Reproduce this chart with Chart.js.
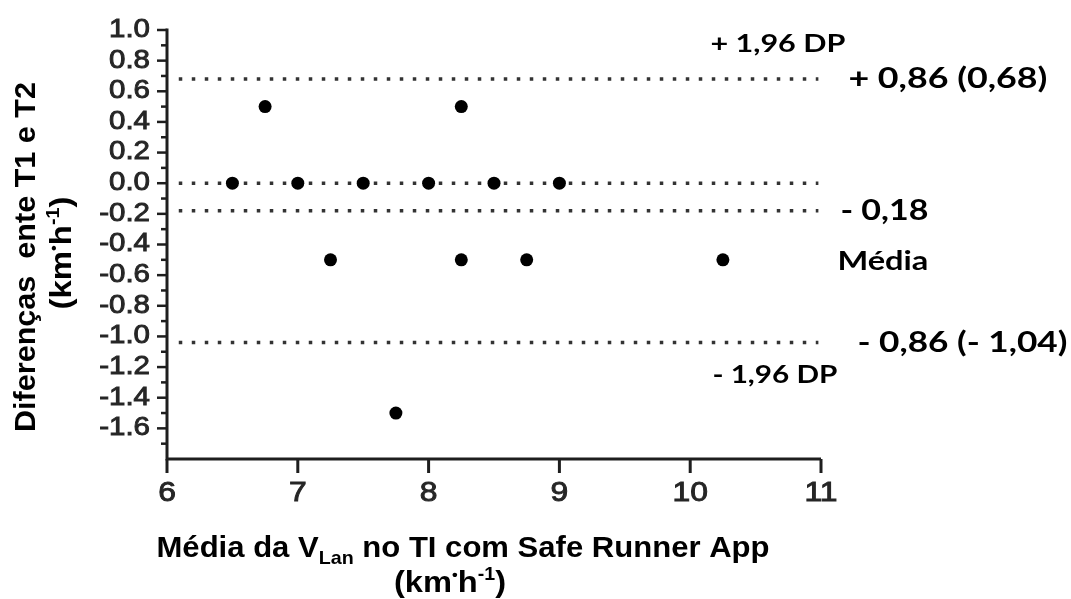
<!DOCTYPE html>
<html>
<head>
<meta charset="utf-8">
<script src="https://cdn.jsdelivr.net/npm/chart.js@4/dist/chart.umd.min.js"></script>
<style>
  html, body { margin: 0; padding: 0; background: #fff; }
  #wrap { width: 1071px; height: 599px; }
</style>
</head>
<body>
<div id="wrap"><canvas id="baChart" width="1071" height="599"></canvas></div>
<script>
// Bland-Altman: mean of the two trials vs difference T1 - T2
const meanSpeed = [6.5, 6.75, 7, 7.25, 7.5, 7.75, 8, 8.25, 8.25, 8.5, 8.75, 9, 10.25];
const diffSpeed = [0, 0.5, 0, -0.5, 0, -1.5, 0, 0.5, -0.5, 0, -0.5, 0, -0.5];
const zeroLevel = 0;
const upperLimit = 0.68;
const bias = -0.18;
const lowerLimit = -1.04;
const lineFrom = 6.09, lineTo = 10.98;
const xTickValues = [6, 7, 8, 9, 10, 11];
const yTickValues = [1.0, 0.8, 0.6, 0.4, 0.2, 0.0, -0.2, -0.4, -0.6, -0.8, -1.0, -1.2, -1.4, -1.6];

const SANS = '"Liberation Sans", Arial, sans-serif';
const NOTE = 'Lato, "Open Sans", sans-serif';

function refLine(level) {
  return {
    type: 'line',
    data: [{ x: lineFrom, y: level }, { x: lineTo, y: level }],
    borderColor: '#333',
    borderWidth: 3.5,
    borderDash: [3.5, 9.5],
    borderCapStyle: 'butt',
    pointRadius: 0,
    order: 2
  };
}

// draw a list of runs [{t, size, dy}] with optional horizontal fit
function drawRuns(ctx, runs, x, y, weight, family, width, align) {
  let total = 0;
  const ws = runs.map(r => {
    ctx.font = weight + ' ' + r.size + 'px ' + family;
    const w = ctx.measureText(r.t).width;
    total += w;
    return w;
  });
  const sx = width ? width / total : 1;
  ctx.save();
  ctx.translate(x, y);
  ctx.scale(sx, 1);
  let cx = align === 'center' ? -total / 2 : 0;
  runs.forEach((r, i) => {
    ctx.font = weight + ' ' + r.size + 'px ' + family;
    ctx.fillText(r.t, cx, r.dy || 0);
    cx += ws[i];
  });
  ctx.restore();
}

function tickText(ctx, txt, x, y, size, align) {
  ctx.save();
  ctx.font = size + 'px ' + SANS;
  ctx.translate(x, y);
  ctx.scale(1.18, 1);
  ctx.textAlign = align;
  ctx.lineWidth = 0.9;
  ctx.strokeStyle = '#262626';
  ctx.fillText(txt, 0, 0);
  ctx.strokeText(txt, 0, 0);
  ctx.restore();
}

const decorations = {
  id: 'decorations',
  afterDraw(chart) {
    const ctx = chart.ctx;
    const xs = chart.scales.x, ys = chart.scales.y;
    const a = chart.chartArea;
    ctx.save();
    ctx.strokeStyle = '#1e1e1e';
    ctx.lineWidth = 3;
    ctx.beginPath();
    ctx.moveTo(a.left, a.top - 1.5);
    ctx.lineTo(a.left, a.bottom + 1.5);
    ctx.moveTo(a.left - 1.5, a.bottom);
    ctx.lineTo(a.right, a.bottom);
    ctx.stroke();

    // y ticks, major every 0.2, minor every 0.1
    ctx.lineWidth = 2.5;
    for (let i = -17; i <= 10; i++) {
      const py = ys.getPixelForValue(i / 10);
      const len = i % 2 === 0 ? 10 : 6;
      ctx.beginPath();
      ctx.moveTo(a.left, py);
      ctx.lineTo(a.left - len, py);
      ctx.stroke();
    }
    // x ticks
    ctx.lineWidth = 3;
    xTickValues.forEach(v => {
      const px = xs.getPixelForValue(v);
      ctx.beginPath();
      ctx.moveTo(px, a.bottom);
      ctx.lineTo(px, a.bottom + 14);
      ctx.stroke();
    });

    // tick labels
    ctx.fillStyle = '#262626';
    ctx.textBaseline = 'middle';
    yTickValues.forEach(v => {
      tickText(ctx, v.toFixed(1), a.left - 17, ys.getPixelForValue(v), 25, 'right');
    });
    xTickValues.forEach(v => {
      tickText(ctx, String(v), xs.getPixelForValue(v), a.bottom + 35, 27, 'center');
    });

    // axis titles
    ctx.fillStyle = '#000';
    ctx.textBaseline = 'alphabetic';
    ctx.textAlign = 'left';
    drawRuns(ctx, [
      { t: 'Média da V', size: 30 },
      { t: 'Lan', size: 19, dy: 7 },
      { t: ' no TI com Safe Runner App', size: 30 }
    ], 463, 557, 'bold', SANS, 613, 'center');
    const unit = [
      { t: '(km', size: 30 },
      { t: '•', size: 15, dy: -12 },
      { t: 'h', size: 30 },
      { t: '-1', size: 18, dy: -12 },
      { t: ')', size: 30 }
    ];
    drawRuns(ctx, unit, 450, 592, 'bold', SANS, 112, 'center');

    ctx.save();
    ctx.translate(35, 257);
    ctx.rotate(-Math.PI / 2);
    drawRuns(ctx, [{ t: 'Diferenças  ente T1 e T2', size: 30 }], 0, 0, 'bold', SANS, 350, 'center');
    ctx.restore();
    ctx.save();
    ctx.translate(71, 253);
    ctx.rotate(-Math.PI / 2);
    drawRuns(ctx, unit, 0, 0, 'bold', SANS, 113, 'center');
    ctx.restore();

    // limit annotations
    const endX = xs.getPixelForValue(lineTo);
    drawRuns(ctx, [{ t: '+ 1,96 DP', size: 24 }], endX - 108, ys.getPixelForValue(upperLimit) - 27, 'bold', NOTE, 135);
    drawRuns(ctx, [{ t: '+ 0,86 (0,68)', size: 28 }], endX + 30, ys.getPixelForValue(upperLimit) + 9, 'bold', NOTE, 199);
    drawRuns(ctx, [{ t: '- 0,18', size: 28 }], endX + 22, ys.getPixelForValue(bias) + 9, 'bold', NOTE, 88);
    drawRuns(ctx, [{ t: 'Média', size: 26 }], endX + 19, ys.getPixelForValue(bias) + 59, 'bold', NOTE, 91);
    drawRuns(ctx, [{ t: '- 0,86 (- 1,04)', size: 28 }], endX + 39, ys.getPixelForValue(lowerLimit) + 9, 'bold', NOTE, 210);
    drawRuns(ctx, [{ t: '- 1,96 DP', size: 24 }], endX - 106, ys.getPixelForValue(lowerLimit) + 40, 'bold', NOTE, 125);
    ctx.restore();
  }
};

const ctx = document.getElementById('baChart').getContext('2d');
new Chart(ctx, {
  type: 'scatter',
  data: {
    datasets: [
      {
        label: 'diferenças',
        data: meanSpeed.map((x, i) => ({ x: x, y: diffSpeed[i] })),
        backgroundColor: '#000',
        borderColor: '#000',
        pointRadius: 6.5,
        borderWidth: 0,
        order: 1
      },
      refLine(upperLimit),
      refLine(zeroLevel),
      refLine(bias),
      refLine(lowerLimit)
    ]
  },
  options: {
    responsive: false,
    animation: false,
    layout: { padding: { left: 0, right: 250, top: 30, bottom: 0 } },
    plugins: { legend: { display: false }, tooltip: { enabled: false } },
    scales: {
      x: {
        type: 'linear', min: 6, max: 11,
        afterBuildTicks: s => { s.ticks = xTickValues.map(v => ({ value: v })); },
        afterFit: s => { s.height = 140; },
        ticks: { display: false },
        grid: { display: false, drawTicks: false },
        border: { display: false }
      },
      y: {
        type: 'linear', min: -1.8, max: 1.0,
        afterBuildTicks: s => { s.ticks = yTickValues.map(v => ({ value: v })); },
        afterFit: s => { s.width = 167; },
        ticks: { display: false },
        grid: { display: false, drawTicks: false },
        border: { display: false }
      }
    }
  },
  plugins: [decorations]
});
</script>
</body>
</html>
